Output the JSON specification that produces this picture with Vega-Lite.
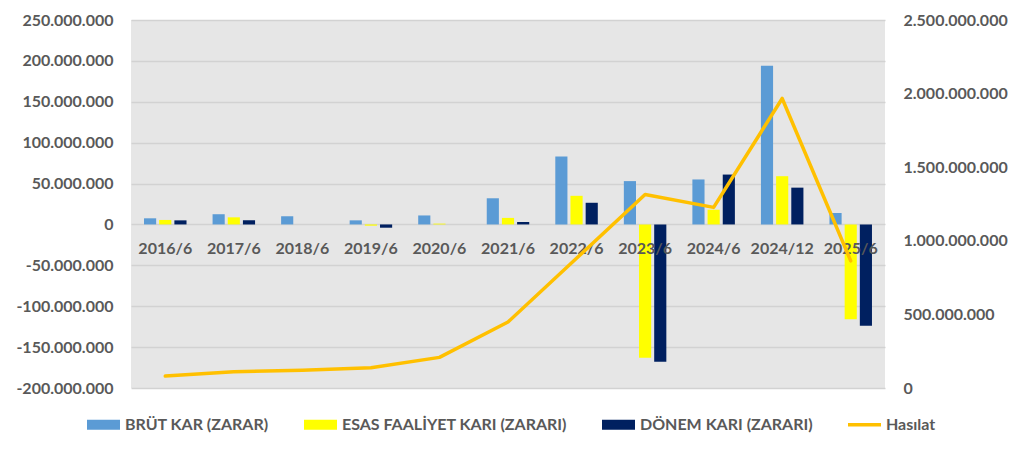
{
  "$schema": "https://vega.github.io/schema/vega-lite/v6.json",
  "width": 754,
  "height": 368,
  "autosize": {"type": "none"},
  "padding": {"left": 131, "top": 20, "right": 139, "bottom": 64},
  "background": "#ffffff",
  "datasets": {
    "bars": [
      {"period": "2016/6", "series": "BRÜT KAR (ZARAR)", "value": 7500000},
      {"period": "2016/6", "series": "ESAS FAALİYET KARI (ZARARI)", "value": 5500000},
      {"period": "2016/6", "series": "DÖNEM KARI (ZARARI)", "value": 5000000},
      {"period": "2017/6", "series": "BRÜT KAR (ZARAR)", "value": 12500000},
      {"period": "2017/6", "series": "ESAS FAALİYET KARI (ZARARI)", "value": 8700000},
      {"period": "2017/6", "series": "DÖNEM KARI (ZARARI)", "value": 5000000},
      {"period": "2018/6", "series": "BRÜT KAR (ZARAR)", "value": 10000000},
      {"period": "2018/6", "series": "ESAS FAALİYET KARI (ZARARI)", "value": 0},
      {"period": "2018/6", "series": "DÖNEM KARI (ZARARI)", "value": 0},
      {"period": "2019/6", "series": "BRÜT KAR (ZARAR)", "value": 5000000},
      {"period": "2019/6", "series": "ESAS FAALİYET KARI (ZARARI)", "value": -1500000},
      {"period": "2019/6", "series": "DÖNEM KARI (ZARARI)", "value": -4000000},
      {"period": "2020/6", "series": "BRÜT KAR (ZARAR)", "value": 11000000},
      {"period": "2020/6", "series": "ESAS FAALİYET KARI (ZARARI)", "value": 1000000},
      {"period": "2020/6", "series": "DÖNEM KARI (ZARARI)", "value": 0},
      {"period": "2021/6", "series": "BRÜT KAR (ZARAR)", "value": 32000000},
      {"period": "2021/6", "series": "ESAS FAALİYET KARI (ZARARI)", "value": 8000000},
      {"period": "2021/6", "series": "DÖNEM KARI (ZARARI)", "value": 3000000},
      {"period": "2022/6", "series": "BRÜT KAR (ZARAR)", "value": 83000000},
      {"period": "2022/6", "series": "ESAS FAALİYET KARI (ZARARI)", "value": 35000000},
      {"period": "2022/6", "series": "DÖNEM KARI (ZARARI)", "value": 26500000},
      {"period": "2023/6", "series": "BRÜT KAR (ZARAR)", "value": 53000000},
      {"period": "2023/6", "series": "ESAS FAALİYET KARI (ZARARI)", "value": -163000000},
      {"period": "2023/6", "series": "DÖNEM KARI (ZARARI)", "value": -168000000},
      {"period": "2024/6", "series": "BRÜT KAR (ZARAR)", "value": 55000000},
      {"period": "2024/6", "series": "ESAS FAALİYET KARI (ZARARI)", "value": 18000000},
      {"period": "2024/6", "series": "DÖNEM KARI (ZARARI)", "value": 61000000},
      {"period": "2024/12", "series": "BRÜT KAR (ZARAR)", "value": 194000000},
      {"period": "2024/12", "series": "ESAS FAALİYET KARI (ZARARI)", "value": 59000000},
      {"period": "2024/12", "series": "DÖNEM KARI (ZARARI)", "value": 45000000},
      {"period": "2025/6", "series": "BRÜT KAR (ZARAR)", "value": 14000000},
      {"period": "2025/6", "series": "ESAS FAALİYET KARI (ZARARI)", "value": -116000000},
      {"period": "2025/6", "series": "DÖNEM KARI (ZARARI)", "value": -124000000}
    ],
    "revenue": [
      {"period": "2016/6", "series": "Hasılat", "value": 81000000},
      {"period": "2017/6", "series": "Hasılat", "value": 111000000},
      {"period": "2018/6", "series": "Hasılat", "value": 121000000},
      {"period": "2019/6", "series": "Hasılat", "value": 138000000},
      {"period": "2020/6", "series": "Hasılat", "value": 208000000},
      {"period": "2021/6", "series": "Hasılat", "value": 448000000},
      {"period": "2022/6", "series": "Hasılat", "value": 881000000},
      {"period": "2023/6", "series": "Hasılat", "value": 1315000000},
      {"period": "2024/6", "series": "Hasılat", "value": 1227000000},
      {"period": "2024/12", "series": "Hasılat", "value": 1967000000},
      {"period": "2025/6", "series": "Hasılat", "value": 864000000}
    ]
  },
  "encoding": {
    "x": {
      "field": "period",
      "type": "nominal",
      "sort": null,
      "scale": {
        "domain": ["2016/6", "2017/6", "2018/6", "2019/6", "2020/6", "2021/6", "2022/6", "2023/6", "2024/6", "2024/12", "2025/6"],
        "paddingInner": 0.38,
        "paddingOuter": 0.19
      },
      "axis": null
    }
  },
  "layer": [
    {
      "layer": [
        {
          "data": {"name": "bars"},
          "mark": {"type": "bar"},
          "encoding": {
            "xOffset": {
              "field": "series",
              "type": "nominal",
              "scale": {
                "domain": ["BRÜT KAR (ZARAR)", "ESAS FAALİYET KARI (ZARARI)", "DÖNEM KARI (ZARARI)"],
                "paddingInner": 0.2,
                "paddingOuter": 0
              }
            },
            "y": {
              "field": "value",
              "type": "quantitative",
              "scale": {"domain": [-200000000, 250000000], "nice": false, "zero": false},
              "axis": {
                "orient": "left",
                "title": null,
                "values": [-200000000, -150000000, -100000000, -50000000, 0, 50000000, 100000000, 150000000, 200000000, 250000000],
                "format": ",.0f",
                "domain": false,
                "ticks": false,
                "labelPadding": 18,
                "grid": true,
                "gridColor": "#d2d2d2",
                "gridWidth": 1.3
              }
            },
            "color": {
              "field": "series",
              "type": "nominal",
              "scale": {
                "domain": ["BRÜT KAR (ZARAR)", "ESAS FAALİYET KARI (ZARARI)", "DÖNEM KARI (ZARARI)", "Hasılat"],
                "range": ["#5b9bd5", "#ffff00", "#002060", "#ffc000"]
              },
              "legend": {
                "orient": "none",
                "legendX": -44,
                "legendY": 388,
                "direction": "horizontal",
                "title": null,
                "columnPadding": 35,
                "labelOffset": 5,
                "symbolSize": 1089,
                "symbolStrokeWidth": 0,
                "labelFont": "Lato",
                "labelFontSize": 16,
                "labelFontWeight": "bold",
                "labelColor": "#595959",
                "labelLimit": 400,
                "encode": {
                  "symbols": {
                    "update": {
                      "shape": {"signal": "datum.value === 'Hasılat' ? 'M-1,-0.1H1V0.1H-1Z' : 'M-1,-0.3H1V0.3H-1Z'"},
                      "fill": {"scale": "color", "field": "value"},
                      "opacity": {"value": 1}
                    }
                  }
                }
              }
            }
          }
        },
        {
          "data": {"name": "revenue"},
          "mark": {
            "type": "text",
            "baseline": "top",
            "dy": 17,
            "font": "Lato",
            "fontSize": 16,
            "fontWeight": "bold",
            "color": "#595959"
          },
          "encoding": {
            "y": {"datum": 0, "type": "quantitative"},
            "text": {"field": "period"}
          }
        }
      ]
    },
    {
      "data": {"name": "revenue"},
      "mark": {
        "type": "line",
        "strokeWidth": 3.5,
        "strokeJoin": "round",
        "strokeCap": "round"
      },
      "encoding": {
        "y": {
          "field": "value",
          "type": "quantitative",
          "scale": {"domain": [0, 2500000000], "nice": false},
          "axis": {
            "orient": "right",
            "title": null,
            "values": [0, 500000000, 1000000000, 1500000000, 2000000000, 2500000000],
            "format": ",.0f",
            "domain": false,
            "ticks": false,
            "grid": false,
            "labelPadding": 18
          }
        },
        "color": {"field": "series", "type": "nominal"}
      }
    }
  ],
  "resolve": {"scale": {"y": "independent"}},
  "config": {
    "view": {"fill": "#e6e6e6", "stroke": null},
    "font": "Lato",
    "locale": {
      "number": {
        "decimal": ",",
        "thousands": ".",
        "grouping": [3],
        "currency": ["", ""],
        "minus": "-"
      }
    },
    "axis": {
      "labelFont": "Lato",
      "labelFontSize": 16,
      "labelFontWeight": "bold",
      "labelColor": "#595959"
    }
  }
}
